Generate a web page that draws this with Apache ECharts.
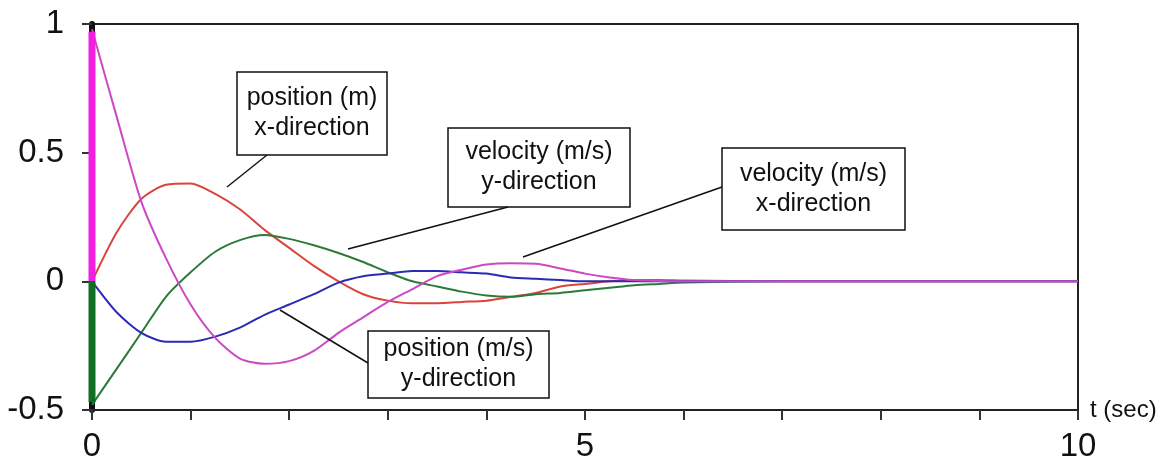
<!DOCTYPE html>
<html>
<head>
<meta charset="utf-8">
<script src="https://cdn.jsdelivr.net/npm/echarts@6.0.0/dist/echarts.min.js"></script>
<style>
  html, body { margin: 0; padding: 0; background: #fff; }
  #chart { width: 1176px; height: 467px; }
</style>
</head>
<body>
<div id="chart"></div>
<script>
// time axis (sec)
const time = [0, 0.25, 0.5, 0.75, 1, 1.25, 1.5, 1.75, 2, 2.25, 2.5, 2.75, 3, 3.25, 3.5, 3.75,
  4, 4.25, 4.5, 4.75, 5, 5.25, 5.5, 5.75, 6, 7, 8, 9, 10]

// position (m) x-direction
const posX = [0, 0.19, 0.32, 0.375, 0.38, 0.34, 0.28, 0.20, 0.13, 0.06, 0.0, -0.05, -0.075, -0.085, -0.085, -0.08,
  -0.075, -0.06, -0.045, -0.02, -0.01, 0, 0.005, 0.005, 0.003, 0, 0, 0, 0]
// velocity (m/s) x-direction
const velX = [0.98, 0.64, 0.31, 0.09, -0.09, -0.22, -0.30, -0.32, -0.31, -0.27, -0.20, -0.14, -0.08, -0.03, 0.02, 0.045,
  0.065, 0.07, 0.068, 0.05, 0.03, 0.015, 0.005, 0.002, 0, 0, 0, 0, 0]
// position (m/s) y-direction
const posY = [0, -0.12, -0.20, -0.235, -0.235, -0.215, -0.18, -0.13, -0.09, -0.05, -0.005, 0.02, 0.03, 0.04, 0.04, 0.035,
  0.03, 0.015, 0.01, 0.005, 0, 0, 0, 0, 0, 0, 0, 0, 0]
// velocity (m/s) y-direction
const velY = [-0.48, -0.34, -0.20, -0.06, 0.035, 0.115, 0.16, 0.18, 0.165, 0.14, 0.11, 0.075, 0.035, 0.0, -0.02, -0.04,
  -0.055, -0.06, -0.05, -0.045, -0.035, -0.025, -0.015, -0.01, -0.005, 0, 0, 0, 0]

// step at t = 0 for the two velocities
const jumpVelX = [0, 0.97]
const jumpVelY = [0, -0.47]

// labelled x ticks
const xLabelled = [0, 5, 10]

const font = 'Liberation Sans, Arial, sans-serif'
const zip = vals => time.map((t, i) => [t, vals[i]])

// annotation box + leader line
const note = (x, y, w, h, text, from, to) => [
  {
    type: 'rect', z: 100,
    shape: { x: x, y: y, width: w, height: h },
    style: { fill: '#fff', stroke: '#111', lineWidth: 1.5 }
  },
  {
    type: 'text', z: 101, x: x + w / 2, y: y + h / 2,
    style: {
      text: text, fill: '#111', font: '25px ' + font,
      align: 'center', verticalAlign: 'middle', lineHeight: 30
    }
  },
  {
    type: 'line', z: 100,
    shape: { x1: from[0], y1: from[1], x2: to[0], y2: to[1] },
    style: { stroke: '#111', lineWidth: 1.5 }
  }
]

const chart = echarts.init(document.getElementById('chart'))

const line = (name, vals, color) => ({
  name: name,
  type: 'line',
  data: zip(vals),
  smooth: 0.25,
  symbol: 'none',
  lineStyle: { color: color, width: 2 },
  animation: false
})

const option = {
  backgroundColor: '#fff',
  animation: false,
  grid: {
    left: 92, right: 98, top: 24, bottom: 57,
    show: true, borderColor: '#222', borderWidth: 2, backgroundColor: '#fff'
  },
  xAxis: {
    type: 'value', min: 0, max: 10, interval: 1,
    name: 't (sec)', nameLocation: 'end', nameGap: 12,
    nameTextStyle: { fontSize: 24, color: '#111', fontFamily: font, verticalAlign: 'middle' },
    axisLine: { show: true, onZero: false, lineStyle: { color: '#222', width: 2 } },
    axisTick: { show: true, length: 10, lineStyle: { color: '#333', width: 2 } },
    axisLabel: {
      fontSize: 33, color: '#111', fontFamily: font, margin: 20,
      formatter: v => xLabelled.includes(v) ? String(v) : ''
    },
    splitLine: { show: false }
  },
  yAxis: {
    type: 'value', min: -0.5, max: 1, interval: 0.5,
    axisLine: { show: true, onZero: false, lineStyle: { color: '#111', width: 6 } },
    axisTick: { show: true, length: 10, lineStyle: { color: '#333', width: 2 } },
    axisLabel: { fontSize: 33, color: '#111', fontFamily: font, margin: 28 },
    splitLine: { show: false }
  },
  series: [
    line('position (m) x-direction', posX, '#d9453c'),
    line('velocity (m/s) y-direction', velY, '#2b7a3a'),
    line('position (m/s) y-direction', posY, '#2a2ab4'),
    line('velocity (m/s) x-direction', velX, '#cc48c4'),
    {
      type: 'line', data: [[0, jumpVelX[0]], [0, jumpVelX[1]]], symbol: 'none',
      lineStyle: { color: '#f020e0', width: 7 }, z: 5, clip: false
    },
    {
      type: 'line', data: [[0, jumpVelY[0]], [0, jumpVelY[1]]], symbol: 'none',
      lineStyle: { color: '#0e6e22', width: 7 }, z: 5, clip: false
    }
  ],
  graphic: [
    ...note(237, 72, 150, 83, 'position (m)\nx-direction', [267, 155], [227, 187]),
    ...note(448, 128, 182, 79, 'velocity (m/s)\ny-direction', [508, 207], [348, 249]),
    ...note(722, 148, 183, 82, 'velocity (m/s)\nx-direction', [722, 187], [523, 257]),
    ...note(368, 331, 181, 67, 'position (m/s)\ny-direction', [368, 363], [280, 310])
  ]
}

chart.setOption(option)
</script>
</body>
</html>
